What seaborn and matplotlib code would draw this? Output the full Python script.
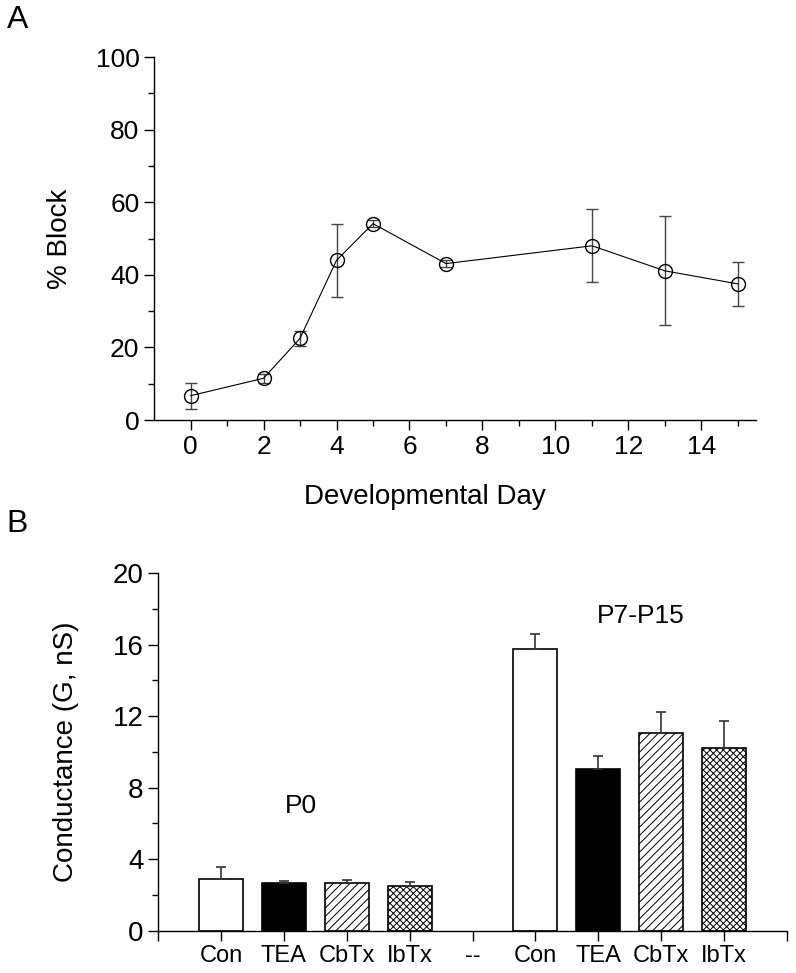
import matplotlib
matplotlib.use('Agg')
import matplotlib.pyplot as plt
import numpy as np
import pandas as pd
import seaborn as sns

sns.set_theme(style='ticks')
plt.rcParams['font.family'] = ['Liberation Sans', 'DejaVu Sans']
plt.rcParams['hatch.linewidth'] = 0.7
for k in ('text.color', 'axes.labelcolor', 'xtick.color', 'ytick.color', 'axes.edgecolor'):
    plt.rcParams[k] = 'black'

# Panel A data
days = [0, 2, 3, 4, 5, 7, 11, 13, 15]
block = [6.7, 11.5, 22.5, 44.0, 54.1, 43.1, 48.0, 41.1, 37.5]
block_err = [3.6, 1.2, 2.0, 10.0, 1.0, 1.0, 10.0, 15.0, 6.0]

# Panel B data
groups = ['P0', 'P0', 'P0', 'P0', 'gap', 'P7-P15', 'P7-P15', 'P7-P15', 'P7-P15']
drugs = ['Con', 'TEA', 'CbTx', 'IbTx', '--', 'Con', 'TEA', 'CbTx', 'IbTx']
conductance = [2.87, 2.69, 2.69, 2.48, np.nan, 15.76, 9.07, 11.08, 10.2]
conductance_err = [0.71, 0.09, 0.13, 0.22, np.nan, 0.84, 0.71, 1.14, 1.5]

fig = plt.figure(figsize=(7.96, 9.73), dpi=100)
axA = fig.add_axes([0.1935, 0.5683, 0.7565, 0.3731])
axB = fig.add_axes([0.1985, 0.0435, 0.7902, 0.3675])

# ---- Panel A
dfA = pd.DataFrame({'day': days, 'block': block, 'err': block_err})
axA.errorbar(dfA['day'], dfA['block'], yerr=dfA['err'], fmt='none',
             ecolor='#444444', elinewidth=1, capsize=4.5, capthick=1, zorder=2)
sns.lineplot(data=dfA, x='day', y='block', ax=axA, color='black', lw=0.8,
             marker='o', markersize=10, markerfacecolor='none',
             markeredgecolor='black', markeredgewidth=1, zorder=3)
axA.set_xlim(-1, 15.5)
axA.set_ylim(0, 100)
axA.set_xticks(range(0, 16, 2))
axA.set_xticks(range(0, 16), minor=True)
axA.set_yticks(range(0, 101, 20))
axA.set_yticks(range(10, 100, 20), minor=True)
axA.set_xlabel('Developmental Day', fontsize=20)
axA.xaxis.set_label_coords(0.45, -0.175)
axA.set_ylabel('% Block', fontsize=20)
axA.yaxis.set_label_coords(-0.135, 0.5)

# ---- Panel B
keys = [f'{g} {d}' for g, d in zip(groups, drugs)]
dfB = pd.DataFrame({'key': keys, 'G': conductance})
sns.barplot(data=dfB, x='key', y='G', order=keys, ax=axB, width=0.7,
            color='white', edgecolor='black', linewidth=1.2, errorbar=None)
face = {'Con': 'white', 'TEA': 'black', 'CbTx': 'white', 'IbTx': 'white'}
hatch = {'Con': None, 'TEA': None, 'CbTx': '////', 'IbTx': 'xxxxx'}
bar_drugs = [d for d, v in zip(drugs, conductance) if not np.isnan(v)]
bars = [p for p in axB.patches if not np.isnan(p.get_height()) and p.get_height() > 0]
for p, d in zip(bars, bar_drugs):
    p.set_facecolor(face[d])
    p.set_edgecolor('black')
    if hatch[d]:
        p.set_hatch(hatch[d])
xpos = np.arange(len(keys))
axB.errorbar(xpos, conductance, yerr=[np.zeros(len(keys)), conductance_err],
             fmt='none', ecolor='#333333', elinewidth=1.2, capsize=3.5,
             capthick=1.2, zorder=1)
axB.set_xlim(-1, 9)
axB.set_ylim(0, 20)
axB.set_xticks(range(-1, 10))
axB.set_xticklabels([''] + drugs + [''], fontsize=17)
axB.set_yticks(range(0, 21, 4))
axB.set_yticks(range(2, 20, 4), minor=True)
axB.set_xlabel('')
axB.set_ylabel('Conductance (G, nS)', fontsize=20)
axB.yaxis.set_label_coords(-0.125, 0.5)
axB.text(1.27, 7.0, 'P0', fontsize=19, ha='center', va='center')
axB.text(6.67, 17.6, 'P7-P15', fontsize=19, ha='center', va='center')

for ax in (axA, axB):
    sns.despine(ax=ax)
    ax.tick_params(which='major', direction='out', length=7, width=1, color='black')
    ax.tick_params(which='minor', direction='out', length=4, width=1, color='black')
    for s in ('left', 'bottom'):
        ax.spines[s].set_linewidth(1)
        ax.spines[s].set_color('black')
axA.tick_params(axis='both', labelsize=19)
axB.tick_params(axis='y', labelsize=20)

fig.text(0.022, 0.979, 'A', fontsize=23, ha='center', va='center')
fig.text(0.022, 0.461, 'B', fontsize=23, ha='center', va='center')

fig.savefig('out.png', dpi=100, facecolor='white')
